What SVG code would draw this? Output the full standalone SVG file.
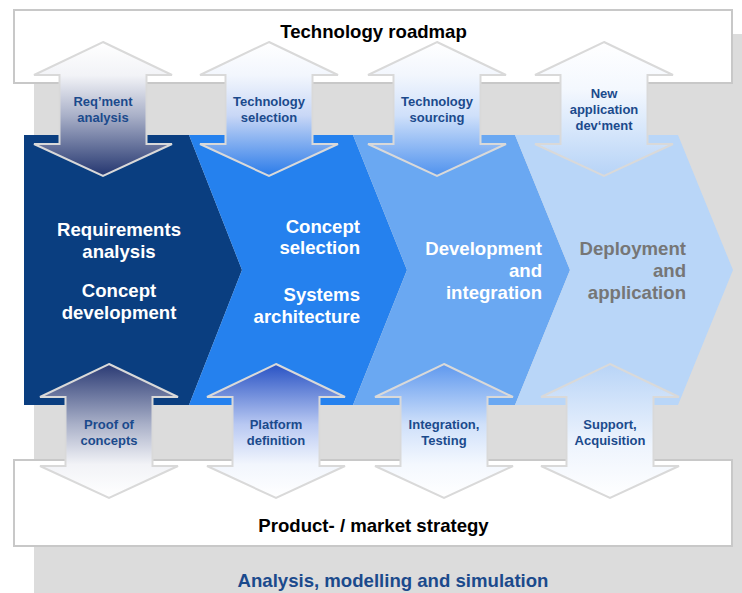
<svg xmlns="http://www.w3.org/2000/svg" width="742" height="593" viewBox="0 0 742 593">
<style>
.box{fill:#ffffff;stroke:#c8c8c8;stroke-width:2}
.big{font-family:"Liberation Sans",Arial,sans-serif;font-weight:bold;font-size:18.6px}
.ttl{fill:#000000;text-anchor:middle}
.ch{fill:#ffffff}
.arr{stroke:#d9d9d9;stroke-width:2}
.lbl{font-family:"Liberation Sans",Arial,sans-serif;font-weight:bold;font-size:13px;fill:#1b4a8c;text-anchor:middle}
</style>
<defs>
<path id="dbl" d="M0,42 L69,75 L43.5,75 L43.5,144 L69,144 L0,176 L-69,144 L-43.5,144 L-43.5,75 L-69,75 Z"/>
<linearGradient id="u1" x1="0" y1="0" x2="0" y2="1"><stop offset="0" stop-color="#ffffff"/><stop offset="0.25" stop-color="#f2f3f7"/><stop offset="0.55" stop-color="#a9b0c8"/><stop offset="1" stop-color="#23356f"/></linearGradient>
<linearGradient id="u2" x1="0" y1="0" x2="0" y2="1"><stop offset="0" stop-color="#ffffff"/><stop offset="0.25" stop-color="#f2f6fd"/><stop offset="0.55" stop-color="#c8d7f6"/><stop offset="1" stop-color="#2a7be9"/></linearGradient>
<linearGradient id="u3" x1="0" y1="0" x2="0" y2="1"><stop offset="0" stop-color="#ffffff"/><stop offset="0.25" stop-color="#f2f6fd"/><stop offset="0.55" stop-color="#cfe0fa"/><stop offset="1" stop-color="#4f92ee"/></linearGradient>
<linearGradient id="u4" x1="0" y1="0" x2="0" y2="1"><stop offset="0" stop-color="#ffffff"/><stop offset="0.35" stop-color="#f4f8fe"/><stop offset="1" stop-color="#b6d3f7"/></linearGradient>
<linearGradient id="l1" x1="0" y1="0" x2="0" y2="1"><stop offset="0" stop-color="#2a3a74"/><stop offset="0.45" stop-color="#a9b0c8"/><stop offset="0.75" stop-color="#f2f3f7"/><stop offset="1" stop-color="#ffffff"/></linearGradient>
<linearGradient id="l2" x1="0" y1="0" x2="0" y2="1"><stop offset="0" stop-color="#2852c4"/><stop offset="0.45" stop-color="#b8c8f2"/><stop offset="0.75" stop-color="#f2f6fd"/><stop offset="1" stop-color="#ffffff"/></linearGradient>
<linearGradient id="l3" x1="0" y1="0" x2="0" y2="1"><stop offset="0" stop-color="#5e98ee"/><stop offset="0.45" stop-color="#cfe0fa"/><stop offset="0.75" stop-color="#f4f8fe"/><stop offset="1" stop-color="#ffffff"/></linearGradient>
<linearGradient id="l4" x1="0" y1="0" x2="0" y2="1"><stop offset="0" stop-color="#b8d4f7"/><stop offset="0.6" stop-color="#eef4fd"/><stop offset="1" stop-color="#ffffff"/></linearGradient>
</defs>

<g id="background">
<rect x="34" y="34" width="708" height="559" fill="#dcdcdc"/>
<text class="big" x="393" y="587" fill="#1b4a8c" text-anchor="middle">Analysis, modelling and simulation</text>
</g>

<g id="roadmap">
<rect class="box" x="14" y="10" width="718" height="73"/>
<text class="big ttl" x="373.5" y="38">Technology roadmap</text>
</g>

<g id="strategy">
<rect class="box" x="14" y="460" width="718" height="86"/>
<text class="big ttl" x="373.5" y="532">Product- / market strategy</text>
</g>

<g id="phase1">
<polygon points="24,135 189,135 242,270 189,405 24,405" fill="#0a3e80"/>
<text class="big ch" text-anchor="middle"><tspan x="119" y="236">Requirements</tspan><tspan x="119" y="258">analysis</tspan><tspan x="119" y="297">Concept</tspan><tspan x="119" y="319">development</tspan></text>
</g>
<g id="phase2">
<polygon points="189,135 353,135 407,270 353,405 189,405 242,270" fill="#2581ee"/>
<text class="big ch" text-anchor="end"><tspan x="360" y="233">Concept</tspan><tspan x="360" y="254">selection</tspan><tspan x="360" y="301">Systems</tspan><tspan x="360" y="323">architecture</tspan></text>
</g>
<g id="phase3">
<polygon points="353,135 515,135 570,270 515,405 353,405 407,270" fill="#6aa8f2"/>
<text class="big ch" text-anchor="end"><tspan x="542" y="255">Development</tspan><tspan x="542" y="277">and</tspan><tspan x="542" y="299">integration</tspan></text>
</g>
<g id="phase4">
<polygon points="515,135 678,135 733,270 678,405 515,405 570,270" fill="#b9d6f8"/>
<text class="big" fill="#767676" text-anchor="end"><tspan x="686" y="255">Deployment</tspan><tspan x="686" y="277">and</tspan><tspan x="686" y="299">application</tspan></text>
</g>

<g id="connectors"></g>

<g id="req-analysis">
<use href="#dbl" class="arr" fill="url(#u1)" transform="translate(103,0)"/>
<text class="lbl"><tspan x="103" y="106">Req’ment</tspan><tspan x="103" y="122">analysis</tspan></text>
</g>
<g id="tech-selection">
<use href="#dbl" class="arr" fill="url(#u2)" transform="translate(269,0)"/>
<text class="lbl"><tspan x="269" y="106">Technology</tspan><tspan x="269" y="122">selection</tspan></text>
</g>
<g id="tech-sourcing">
<use href="#dbl" class="arr" fill="url(#u3)" transform="translate(437,0)"/>
<text class="lbl"><tspan x="437" y="106">Technology</tspan><tspan x="437" y="122">sourcing</tspan></text>
</g>
<g id="new-app">
<use href="#dbl" class="arr" fill="url(#u4)" transform="translate(604,0)"/>
<text class="lbl"><tspan x="604" y="98">New</tspan><tspan x="604" y="114">application</tspan><tspan x="604" y="130">dev‘ment</tspan></text>
</g>

<g id="proof">
<use href="#dbl" class="arr" fill="url(#l1)" transform="translate(109,322)"/>
<text class="lbl"><tspan x="109" y="429">Proof of</tspan><tspan x="109" y="445">concepts</tspan></text>
</g>
<g id="platform">
<use href="#dbl" class="arr" fill="url(#l2)" transform="translate(276,322)"/>
<text class="lbl"><tspan x="276" y="429">Platform</tspan><tspan x="276" y="445">definition</tspan></text>
</g>
<g id="integration">
<use href="#dbl" class="arr" fill="url(#l3)" transform="translate(444,322)"/>
<text class="lbl"><tspan x="444" y="429">Integration,</tspan><tspan x="444" y="445">Testing</tspan></text>
</g>
<g id="support">
<use href="#dbl" class="arr" fill="url(#l4)" transform="translate(610,322)"/>
<text class="lbl"><tspan x="610" y="429">Support,</tspan><tspan x="610" y="445">Acquisition</tspan></text>
</g>
</svg>
